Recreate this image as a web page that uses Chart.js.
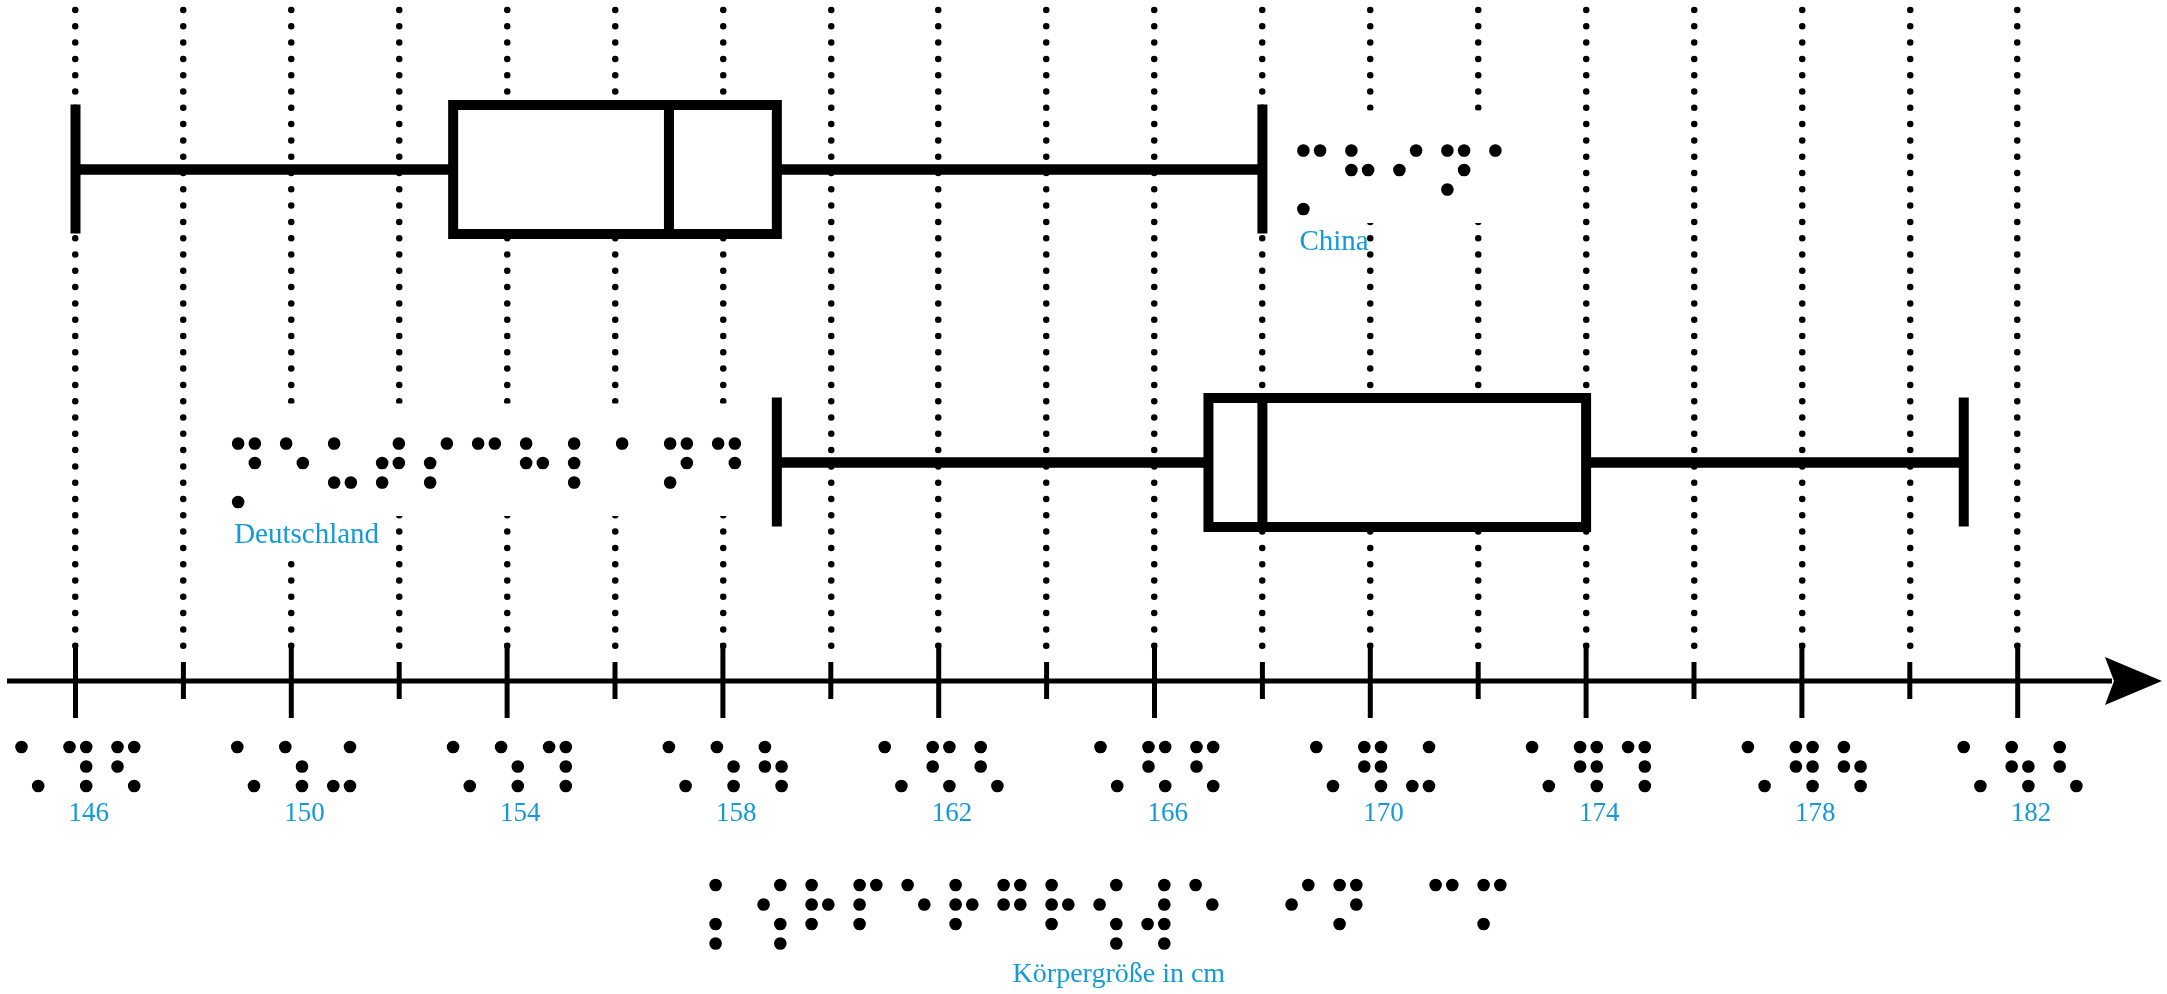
<!DOCTYPE html>
<html>
<head>
<meta charset="utf-8">
<script src="https://cdn.jsdelivr.net/npm/chart.js@4.4.1/dist/chart.umd.min.js"></script>
<style>
  html, body { margin: 0; padding: 0; background: #fff; }
  canvas { display: block; }
</style>
</head>
<body>
<canvas id="chart" width="2167" height="994"></canvas>
<script>
// Körpergröße China / Deutschland, Boxplots mit Braille-Beschriftung (Eurobraille)
const categories = ['China', 'Deutschland'];
const categoriesBraille = [
  '\u2849\u2813\u280A\u281D\u2801',
  '\u2859\u2811\u2825\u281E\u280E\u2809\u2813\u2807\u2801\u281D\u2819'
];
const whiskerLow = [146, 159];
const quartile1 = [153, 167];
const medians = [157, 168];
const quartile3 = [159, 174];
const whiskerHigh = [168, 181];

const tickLabels = ['146', '150', '154', '158', '162', '166', '170', '174', '178', '182'];
const tickBraille = [
  '\u2821\u2839\u282B', '\u2821\u2831\u282C', '\u2821\u2831\u2839', '\u2821\u2831\u2833',
  '\u2821\u282B\u2823', '\u2821\u282B\u282B', '\u2821\u283B\u282C', '\u2821\u283B\u2839',
  '\u2821\u283B\u2833', '\u2821\u2833\u2823'
];
const axisTitle = 'Körpergröße in cm';
const axisTitleBraille = '\u2845\u28AA\u2817\u280F\u2811\u2817\u281B\u2817\u28AA\u28BC\u2811\u2800\u280A\u281D\u2800\u2809\u280D';

const BLUE = '#139ad8';
const TEXT_FONT = '"Liberation Serif", serif';
const BRAILLE_FONT = '"DejaVu Sans"';
const cell = { dx: 16.7, dy: 19.5, size: 12.6, pitch: 48 };
const labelSide = ['right', 'left'];

// measure where the dots of a braille glyph sit, so the cells can be scaled to the picture
function measureBraille() {
  const W = 400;
  const c = document.createElement('canvas');
  c.width = W; c.height = W;
  const g = c.getContext('2d');
  g.font = '200px ' + BRAILLE_FONT;
  g.textBaseline = 'alphabetic';
  g.fillStyle = '#000';
  g.fillText('\u28FF', 100, 300);
  const px = g.getImageData(0, 0, W, W).data;
  const cols = new Array(W).fill(0), rows = new Array(W).fill(0);
  for (let y = 0; y < W; y++) {
    for (let x = 0; x < W; x++) {
      if (px[(y * W + x) * 4 + 3] > 100) { cols[x]++; rows[y]++; }
    }
  }
  const runs = arr => {
    const r = []; let s = -1;
    arr.forEach((v, i) => {
      if (v && s < 0) s = i;
      if (!v && s >= 0) { r.push([s, i - 1]); s = -1; }
    });
    return r;
  };
  const cr = runs(cols), rr = runs(rows);
  const mid = r => (r[0] + r[1]) / 2;
  const cx0 = mid(cr[0]) - 100, cx1 = mid(cr[cr.length - 1]) - 100;
  const ry0 = mid(rr[0]) - 300, ry3 = mid(rr[rr.length - 1]) - 300;
  const dw = cr[0][1] - cr[0][0] + 1;
  const sx = cell.dx / (cx1 - cx0);
  const sy = cell.dy / ((ry3 - ry0) / (rr.length - 1));
  // glyph dots are square: grow them a bit and clip each one to a round dot
  return { cx0, ry0, sx, sy, stroke: Math.max(0, 15.5 / Math.min(sx, sy) - dw) };
}
const bm = measureBraille();

// x, y = centre of the top-left dot of the first cell
function drawBraille(ctx, str, x, y) {
  ctx.save();
  ctx.font = '200px ' + BRAILLE_FONT;
  ctx.textBaseline = 'alphabetic';
  ctx.fillStyle = '#000';
  ctx.strokeStyle = '#000';
  ctx.lineJoin = 'miter';
  ctx.lineWidth = bm.stroke;
  Array.from(str).forEach((ch, i) => {
    const ox = x + i * cell.pitch;
    ctx.save();
    ctx.beginPath();
    for (let col = 0; col < 2; col++) {
      for (let row = 0; row < 4; row++) {
        const cx = ox + col * cell.dx, cy = y + row * cell.dy;
        ctx.moveTo(cx + cell.size / 2, cy);
        ctx.arc(cx, cy, cell.size / 2, 0, Math.PI * 2);
      }
    }
    ctx.clip();
    ctx.translate(ox, y);
    ctx.scale(bm.sx, bm.sy);
    ctx.fillText(ch, -bm.cx0, -bm.ry0);
    if (bm.stroke > 0) ctx.strokeText(ch, -bm.cx0, -bm.ry0);
    ctx.restore();
  });
  ctx.restore();
}
const brailleWidth = str => (Array.from(str).length - 1) * cell.pitch + cell.dx;

function labelPos(chart, i) {
  const xs = chart.scales.x, ys = chart.scales.y;
  const row1 = ys.getPixelForValue(i + 1) - 19;
  const w = brailleWidth(categoriesBraille[i]);
  const bx = labelSide[i] === 'right'
    ? xs.getPixelForValue(whiskerHigh[i]) + 41
    : xs.getPixelForValue(whiskerLow[i]) - 42 - w;
  return { bx, row1, w };
}

const boxPlotPlugin = {
  id: 'boxplot',
  beforeDraw(chart) {
    // dotted grid: zero-length dashes with round caps
    chart.ctx.lineCap = 'round';
  },
  beforeDatasetsDraw(chart) {
    const ctx = chart.ctx;
    ctx.save();
    ctx.fillStyle = '#fff';
    ctx.font = '29px ' + TEXT_FONT;
    categories.forEach((name, i) => {
      const p = labelPos(chart, i);
      ctx.fillRect(p.bx - 20, p.row1 - 40, p.w + 40, 3 * cell.dy + 54);
      const tw = ctx.measureText(name).width;
      ctx.fillRect(p.bx - 8, p.row1 + 72, tw + 2, 37);
    });
    ctx.restore();
  },
  afterDatasetsDraw(chart) {
    const ctx = chart.ctx;
    const xs = chart.scales.x, ys = chart.scales.y;
    const area = chart.chartArea;
    ctx.save();
    ctx.lineCap = 'butt';
    ctx.lineJoin = 'miter';
    ctx.strokeStyle = '#000';
    ctx.fillStyle = '#000';

    // box plots
    categories.forEach((name, i) => {
      const yc = ys.getPixelForValue(i + 1);
      const h = 129;
      const xLo = xs.getPixelForValue(whiskerLow[i]);
      const xQ1 = xs.getPixelForValue(quartile1[i]);
      const xMed = xs.getPixelForValue(medians[i]);
      const xQ3 = xs.getPixelForValue(quartile3[i]);
      const xHi = xs.getPixelForValue(whiskerHigh[i]);
      ctx.lineWidth = 10.5;
      ctx.beginPath();
      ctx.moveTo(xLo, yc); ctx.lineTo(xQ1, yc);
      ctx.moveTo(xQ3, yc); ctx.lineTo(xHi, yc);
      ctx.stroke();
      ctx.lineWidth = 10;
      ctx.beginPath();
      ctx.moveTo(xLo, yc - 65); ctx.lineTo(xLo, yc + 64);
      ctx.moveTo(xHi, yc - 65); ctx.lineTo(xHi, yc + 64);
      ctx.moveTo(xMed, yc - h / 2); ctx.lineTo(xMed, yc + h / 2);
      ctx.stroke();
      ctx.strokeRect(xQ1, yc - h / 2, xQ3 - xQ1, h);
    });

    // x axis with arrow
    const axisY = area.bottom + 25;
    const W = chart.width;
    ctx.lineWidth = 5;
    ctx.beginPath();
    ctx.moveTo(7, axisY);
    ctx.lineTo(W - 55, axisY);
    ctx.stroke();
    ctx.beginPath();
    ctx.moveTo(W - 5, axisY);
    ctx.lineTo(W - 62, axisY - 24);
    ctx.lineTo(W - 53, axisY);
    ctx.lineTo(W - 62, axisY + 24);
    ctx.closePath();
    ctx.fill();

    // tick marks
    xs.ticks.forEach(t => {
      const x = xs.getPixelForValue(t.value);
      const major = tickLabels.includes(String(t.value));
      ctx.beginPath();
      ctx.moveTo(x, axisY - (major ? 38 : 19));
      ctx.lineTo(x, axisY + (major ? 37 : 18));
      ctx.stroke();
    });

    // tick labels: braille + print
    ctx.fillStyle = BLUE;
    ctx.textBaseline = 'alphabetic';
    ctx.font = '27px ' + TEXT_FONT;
    tickLabels.forEach((lab, i) => {
      const x = xs.getPixelForValue(Number(lab));
      drawBraille(ctx, tickBraille[i], x - 54, axisY + 66);
      ctx.fillText(lab, x - 7, axisY + 140);
    });

    // axis title
    const cx = (area.left + area.right) / 2;
    drawBraille(ctx, axisTitleBraille, cx - 331, axisY + 204);
    ctx.font = '28px ' + TEXT_FONT;
    ctx.fillText(axisTitle, cx - 34, axisY + 301);

    // category labels
    ctx.font = '29px ' + TEXT_FONT;
    categories.forEach((name, i) => {
      const p = labelPos(chart, i);
      drawBraille(ctx, categoriesBraille[i], p.bx, p.row1);
      ctx.fillText(name, p.bx - 4, p.row1 + 99);
    });
    ctx.restore();
  }
};

new Chart(document.getElementById('chart'), {
  type: 'bar',
  data: {
    datasets: [{
      label: 'Körpergröße',
      data: categories.map((c, i) => ({ x: [quartile1[i], quartile3[i]], y: i + 1 })),
      backgroundColor: '#fff',
      borderWidth: 0,
      barThickness: 129
    }]
  },
  options: {
    indexAxis: 'y',
    responsive: false,
    animation: false,
    devicePixelRatio: 1,
    layout: { padding: { left: 75.5, right: 149.3, top: 10, bottom: 338 } },
    plugins: { legend: { display: false }, tooltip: { enabled: false } },
    scales: {
      x: {
        type: 'linear',
        min: 146,
        max: 182,
        ticks: { stepSize: 2, display: false },
        grid: { color: '#000', lineWidth: 6.5, drawTicks: false },
        border: { display: false, dash: [0, 16.3] }
      },
      y: {
        type: 'linear',
        reverse: true,
        offset: false,
        min: 0.4556,
        max: 2.6604,
        display: false,
        grid: { offset: false }
      }
    }
  },
  plugins: [boxPlotPlugin]
});
</script>
</body>
</html>
